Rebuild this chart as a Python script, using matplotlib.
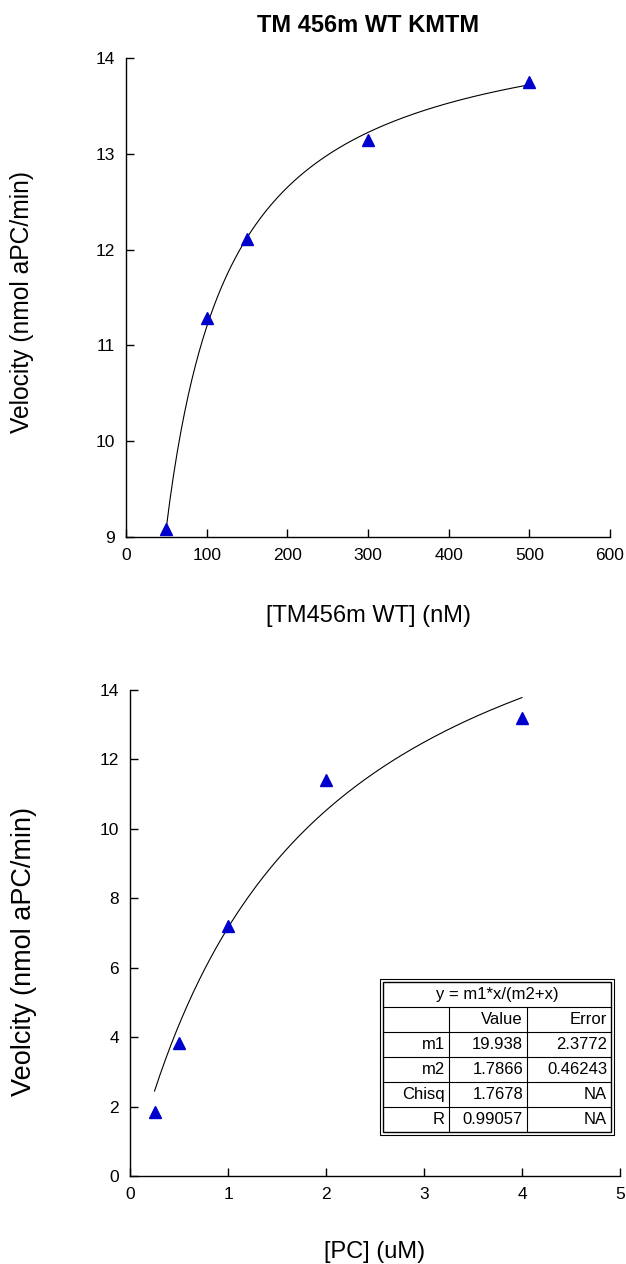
import numpy as np
import matplotlib.pyplot as plt
from matplotlib.patches import Rectangle

plt.rcParams["font.family"] = ["Liberation Sans", "DejaVu Sans"]

# top panel: velocity vs TM456m WT
tm_conc = [50, 100, 150, 300, 500]
tm_vel = [9.08, 11.29, 12.11, 13.14, 13.75]
tm_fit = [14.54, 29.9]  # m1, m2

# bottom panel: velocity vs PC
pc_conc = [0.25, 0.5, 1, 2, 4]
pc_vel = [1.85, 3.82, 7.2, 11.4, 13.2]

fit_title = "y = m1*x/(m2+x)"
fit_cols = ["", "Value", "Error"]
fit_names = ["m1", "m2", "Chisq", "R"]
fit_values = ["19.938", "1.7866", "1.7678", "0.99057"]
fit_errors = ["2.3772", "0.46243", "NA", "NA"]
pc_fit = [19.938, 1.7866]

BLUE = "#0000cc"

fig = plt.figure(figsize=(6.26, 12.64), dpi=100)


def style_axes(ax):
    for side in ["top", "right"]:
        ax.spines[side].set_visible(False)
    for side in ["left", "bottom"]:
        ax.spines[side].set_linewidth(1.0)
    ax.tick_params(direction="in", length=6, width=1, labelsize=12.5, pad=8)


def mm(x, m1, m2):
    x = np.asarray(x, dtype=float)
    return m1 * x / (m2 + x)


# ---- top ----
ax1 = fig.add_axes([0.2013, 0.5752, 0.7732, 0.3790])
xs = np.linspace(tm_conc[0], tm_conc[-1], 200)
ax1.plot(xs, mm(xs, *tm_fit), color="black", lw=0.8)
ax1.plot(tm_conc, tm_vel, "^", color=BLUE, ms=9, clip_on=False)
ax1.set_xlim(0, 600)
ax1.set_ylim(9, 14)
ax1.set_xticks(range(0, 601, 100))
ax1.set_yticks(range(9, 15))
style_axes(ax1)
ax1.set_xlabel("[TM456m WT] (nM)", fontsize=17, labelpad=30)
ax1.set_ylabel("Velocity (nmol aPC/min)", fontsize=17.7)
ax1.yaxis.set_label_coords(-0.19, 0.49)
ax1.set_title("TM 456m WT KMTM", fontsize=17, fontweight="bold", pad=19)

# ---- bottom ----
ax2 = fig.add_axes([0.2077, 0.0696, 0.7827, 0.3845])
xs = np.linspace(pc_conc[0], pc_conc[-1], 200)
ax2.plot(xs, mm(xs, *pc_fit), color="black", lw=0.8)
ax2.plot(pc_conc, pc_vel, "^", color=BLUE, ms=9, clip_on=False)
ax2.set_xlim(0, 5)
ax2.set_ylim(0, 14)
ax2.set_xticks(range(0, 6))
ax2.set_yticks(range(0, 15, 2))
style_axes(ax2)
ax2.set_xlabel("[PC] (uM)", fontsize=17, labelpad=28)
ax2.set_ylabel("Veolcity (nmol aPC/min)", fontsize=19.5)
ax2.yaxis.set_label_coords(-0.19, 0.461)

# fit result table (figure pixel box ~ x 383-612, y 982-1133)
W, H = 626.0, 1264.0
tx0, tx1 = 383, 611
ty0, ty1 = 982, 1132
col_edges = [tx0, 449, 527, tx1]
n_rows = 1 + 1 + len(fit_names)
row_h = (ty1 - ty0) / n_rows


def fx(px):
    return px / W


def fy(py):
    return 1 - py / H


# double outer border
for off, lw in [(0, 1.0), (3, 0.8)]:
    fig.patches.append(Rectangle((fx(tx0 - off), fy(ty1 + off)),
                                 (tx1 - tx0 + 2 * off) / W, (ty1 - ty0 + 2 * off) / H,
                                 transform=fig.transFigure, fill=(off == 3),
                                 facecolor="white", edgecolor="black", lw=lw,
                                 zorder=5 - off))

# horizontal lines
for i in range(1, n_rows):
    y = ty0 + i * row_h
    fig.add_artist(plt.Line2D([fx(tx0), fx(tx1)], [fy(y), fy(y)],
                              transform=fig.transFigure, color="black", lw=0.8, zorder=6))
# vertical lines below header
for xe in col_edges[1:-1]:
    fig.add_artist(plt.Line2D([fx(xe), fx(xe)], [fy(ty0 + row_h), fy(ty1)],
                              transform=fig.transFigure, color="black", lw=0.8, zorder=6))

fig.text(fx((tx0 + tx1) / 2), fy(ty0 + row_h / 2), fit_title, ha="center", va="center",
         fontsize=12, zorder=7)

rows = [fit_cols] + [[n, v, e] for n, v, e in zip(fit_names, fit_values, fit_errors)]
for r, row in enumerate(rows):
    yc = ty0 + (r + 1.5) * row_h
    for c, txt in enumerate(row):
        fig.text(fx(col_edges[c + 1] - 4), fy(yc), txt, ha="right", va="center",
                 fontsize=12, zorder=7)

fig.savefig("out.png", dpi=100)
